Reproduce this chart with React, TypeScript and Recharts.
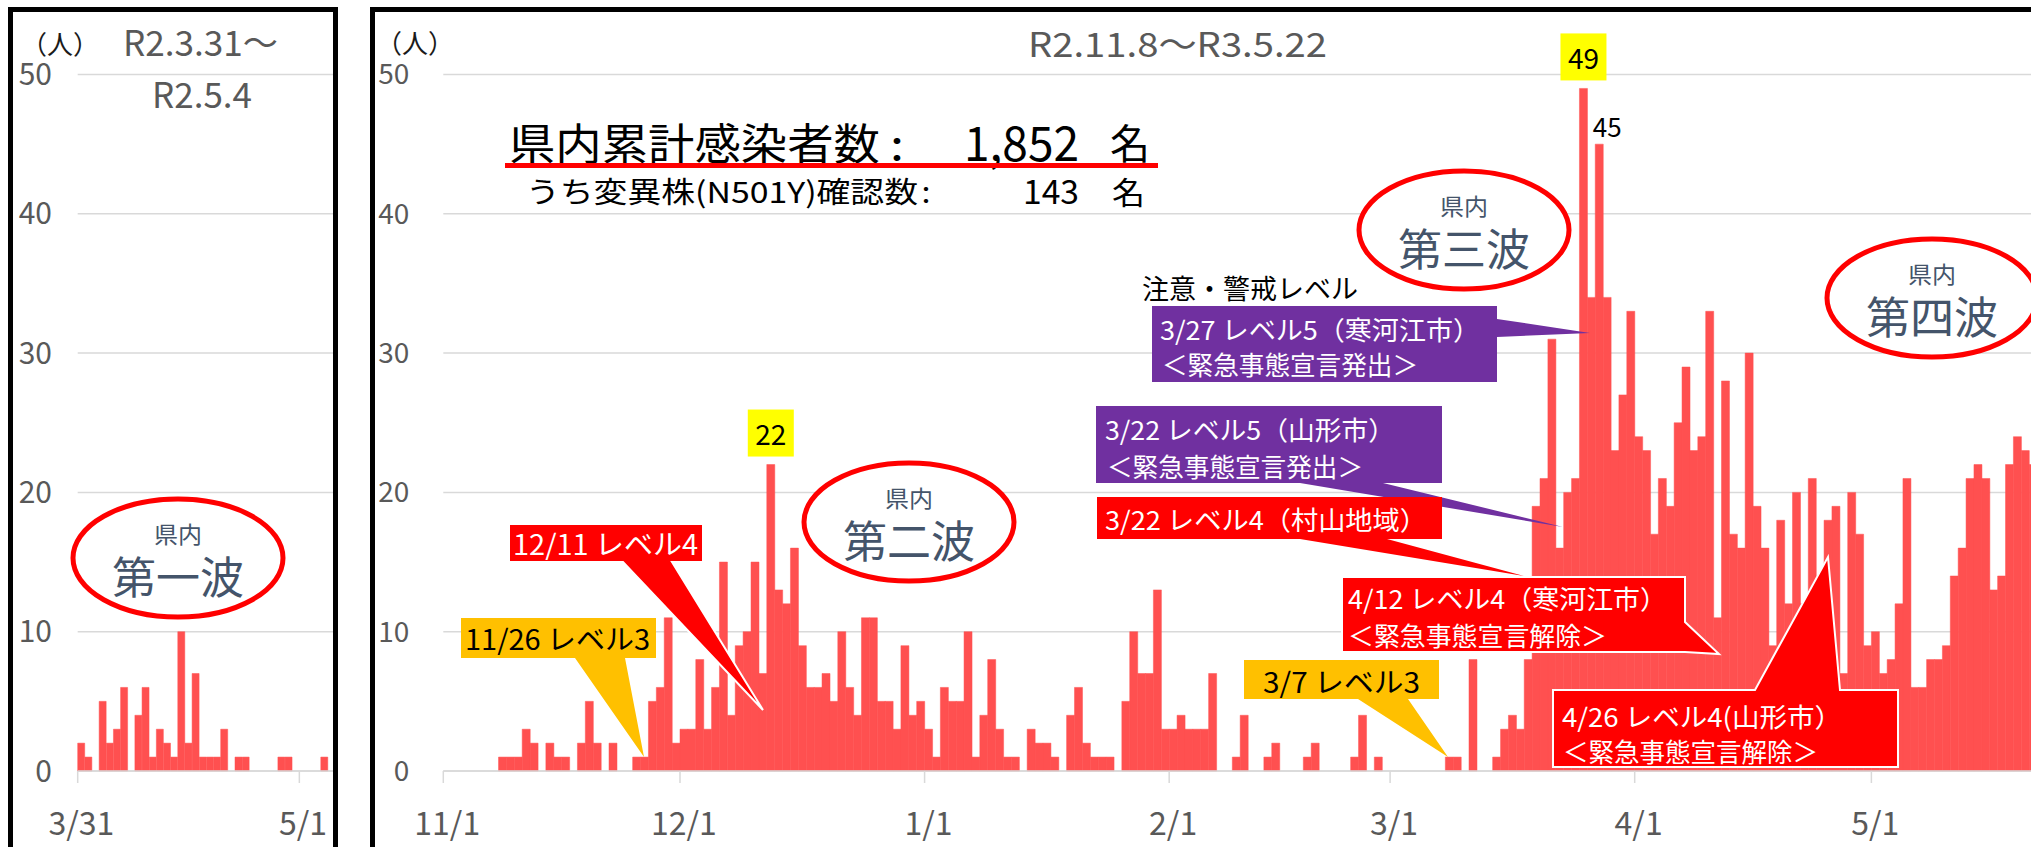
import React from 'react';
import { BarChart, Bar, XAxis, YAxis, CartesianGrid, LabelList } from 'recharts';

const FONT = "'Noto Sans CJK JP', 'Noto Sans', sans-serif";

// ---------- data ----------
// First wave (R2.3.31 - R2.5.4), daily new cases
const leftMar = [2];
const leftApr = [1, 0, 5, 2, 3, 6, 0, 4, 6, 1, 3, 2, 1, 10, 2, 7, 1, 1, 1, 3, 0, 1, 1, 0, 0, 0, 0, 1, 1, 0];
const leftMay = [0, 0, 0, 1, 0];

// Third & fourth waves (R2.11.1 - R3.5.21)
const novCases = [0, 0, 0, 0, 0, 0, 0, 1, 1, 1, 3, 2, 0, 2, 1, 1, 0, 2, 5, 2, 0, 2, 0, 0, 1, 1, 5, 6, 11, 2];
const decCases = [3, 3, 8, 3, 6, 15, 4, 9, 10, 15, 7, 22, 13, 12, 16, 9, 6, 6, 7, 5, 10, 6, 4, 11, 11, 5, 5, 3, 9, 4, 5];
const janCases = [3, 1, 6, 5, 5, 10, 1, 4, 8, 3, 1, 1, 0, 3, 2, 2, 1, 0, 4, 6, 2, 1, 1, 1, 0, 5, 10, 7, 7, 13, 3];
const febCases = [3, 4, 3, 3, 3, 7, 0, 0, 1, 4, 0, 0, 1, 2, 0, 0, 0, 1, 2, 0, 0, 0, 0, 1, 4, 0, 1, 0];
const marCases = [0, 0, 0, 0, 0, 0, 0, 1, 1, 0, 8, 0, 0, 1, 3, 4, 3, 8, 19, 21, 31, 16, 20, 21, 49, 34, 45, 34, 23, 27, 33];
const aprCases = [24, 23, 17, 21, 19, 25, 29, 23, 24, 33, 11, 28, 17, 16, 30, 19, 16, 9, 18, 12, 20, 12, 21, 14, 18, 19, 7, 20, 17, 9];
const mayCases = [10, 7, 8, 12, 21, 6, 6, 8, 8, 9, 14, 16, 21, 22, 21, 13, 14, 22, 24, 23, 22];

const leftTicks = ['3/31', '5/1'];
const rightTicks = ['11/1', '12/1', '1/1', '2/1', '3/1', '4/1', '5/1'];
const yTicks = [0, 10, 20, 30, 40, 50];

const peakNotes = [
  { date: '12/12', text: '22', boxed: true },
  { date: '3/25', text: '49', boxed: true },
  { date: '3/27', text: '45', boxed: false },
];

const DAYS_IN = [31, 28, 31, 30, 31, 30, 31, 31, 30, 31, 30, 31];
function dateLabels(m0: number, d0: number, n: number): string[] {
  const out: string[] = [];
  let m = m0, d = d0;
  for (let i = 0; i < n; i++) {
    out.push(`${m}/${d}`);
    d++;
    if (d > DAYS_IN[m - 1]) { d = 1; m = (m % 12) + 1; }
  }
  return out;
}

const leftCases = [...leftMar, ...leftApr, ...leftMay];
const rightCases = [...novCases, ...decCases, ...janCases, ...febCases, ...marCases, ...aprCases, ...mayCases];
const leftDates = dateLabels(3, 31, leftCases.length);
const rightDates = dateLabels(11, 1, rightCases.length);

const leftData = leftCases.map((v, i) => ({ date: leftDates[i], cases: v }));
const rightData = rightCases.map((v, i) => {
  const n = peakNotes.find((p) => p.date === rightDates[i]);
  return { date: rightDates[i], cases: v, note: n ? n.text : undefined };
});

// ---------- layout ----------
const H = 847;
const TOP = 74.5;
const XAXIS_H = 76;
const BAND_L = 7.15;
const BAND_R = 7.89;
const YW_L = 77.7;
const YW_R = 73.3;
const BAR = '#FF5050';
const GRID = '#D9D9D9';
const TICK = '#595959';

function makeXTick(half: number) {
  return (props: any) => {
    const { x, y, payload } = props;
    return (
      <g>
        <line x1={x - half} x2={x - half} y1={y} y2={y + 12} stroke={GRID} strokeWidth={1.5} />
        <text x={x} y={y + 64} textAnchor="middle" fontSize={32} fill={TICK} fontFamily={FONT}>
          {payload.value}
        </text>
      </g>
    );
  };
}

const NoteLabel = (p: any) => {
  const { x, y, width, value } = p;
  if (value === undefined || value === null || value === '') return null;
  const note = peakNotes.find((n) => n.text === String(value));
  const cx = Number(x) + Number(width) / 2;
  const top = Number(y);
  if (note && note.boxed) {
    return (
      <g>
        <rect x={cx - 23} y={top - 55} width={46} height={47} fill="#FFFF00" />
        <text x={cx} y={top - 31.5} textAnchor="middle" dominantBaseline="central" fontSize={28} fill="#000" fontFamily={FONT}>
          {value}
        </text>
      </g>
    );
  }
  return (
    <text x={cx + 8} y={top - 19} textAnchor="middle" dominantBaseline="central" fontSize={26} fill="#000" fontFamily={FONT}>
      {value}
    </text>
  );
};

const T = (props: any) => {
  const { x, y, s, w, anchor = 'start', fill = '#000', children } = props;
  return (
    <text
      x={x}
      y={y}
      fontSize={s}
      textLength={w}
      lengthAdjust={w ? 'spacingAndGlyphs' : undefined}
      textAnchor={anchor}
      dominantBaseline="central"
      fill={fill}
      fontFamily={FONT}
    >
      {children}
    </text>
  );
};

type Line = { t: string; x: number; y: number; w: number };
type Callout = { shape: number[][]; fill: string; border?: string; color: string; fs: number; lines: Line[] };

const callouts: Callout[] = [
  {
    shape: [[509, 524], [703, 524], [703, 562], [672, 562], [763, 710], [623, 562], [509, 562]],
    fill: '#FF0000', border: '#FFFFFF', color: '#FFFFFF', fs: 28,
    lines: [{ t: '12/11 レベル4', x: 513, y: 543, w: 185 }],
  },
  {
    shape: [[461, 618], [656, 618], [656, 658], [625, 658], [644, 757], [575, 658], [461, 658]],
    fill: '#FFC000', color: '#000000', fs: 28,
    lines: [{ t: '11/26 レベル3', x: 465, y: 638, w: 185 }],
  },
  {
    shape: [[1244, 660], [1439, 660], [1439, 699], [1408, 699], [1448, 757], [1358, 699], [1244, 699]],
    fill: '#FFC000', color: '#000000', fs: 28,
    lines: [{ t: '3/7 レベル3', x: 1263, y: 681, w: 157 }],
  },
  {
    shape: [[1152, 306], [1497, 306], [1497, 319], [1590, 333], [1497, 337], [1497, 382], [1152, 382]],
    fill: '#7030A0', color: '#FFFFFF', fs: 26,
    lines: [
      { t: '3/27 レベル5（寒河江市）', x: 1160, y: 328, w: 320 },
      { t: '＜緊急事態宣言発出＞', x: 1162, y: 363, w: 256 },
    ],
  },
  {
    shape: [[1096, 406], [1442, 406], [1442, 483], [1383, 483], [1563, 527], [1300, 483], [1096, 483]],
    fill: '#7030A0', color: '#FFFFFF', fs: 26,
    lines: [
      { t: '3/22 レベル5（山形市）', x: 1105, y: 428, w: 290 },
      { t: '＜緊急事態宣言発出＞', x: 1107, y: 465, w: 256 },
    ],
  },
  {
    shape: [[1097, 497], [1442, 497], [1442, 539], [1387, 539], [1524, 576], [1300, 539], [1097, 539]],
    fill: '#FF0000', color: '#FFFFFF', fs: 26,
    lines: [{ t: '3/22 レベル4（村山地域）', x: 1105, y: 518, w: 322 }],
  },
  {
    shape: [[1342, 577], [1685, 577], [1685, 622], [1719, 654], [1685, 652], [1342, 652]],
    fill: '#FF0000', border: '#FFFFFF', color: '#FFFFFF', fs: 26,
    lines: [
      { t: '4/12 レベル4（寒河江市）', x: 1348, y: 597, w: 319 },
      { t: '＜緊急事態宣言解除＞', x: 1348, y: 634, w: 259 },
    ],
  },
  {
    shape: [[1553, 690], [1755, 690], [1828, 557], [1840, 690], [1898, 690], [1898, 767], [1553, 767]],
    fill: '#FF0000', border: '#FFFFFF', color: '#FFFFFF', fs: 26,
    lines: [
      { t: '4/26 レベル4(山形市）', x: 1562, y: 715, w: 280 },
      { t: '＜緊急事態宣言解除＞', x: 1563, y: 750, w: 255 },
    ],
  },
];

const waves = [
  { cx: 178, cy: 558, t: '第一波' },
  { cx: 909, cy: 522, t: '第二波' },
  { cx: 1464, cy: 230, t: '第三波' },
  { cx: 1932, cy: 298, t: '第四波' },
];

const yTickStyleL = { fontSize: 30, fill: TICK, fontFamily: FONT };
const yTickStyleR = { fontSize: 28, fill: TICK, fontFamily: FONT };

export default function App() {
  const leftW = YW_L + leftCases.length * BAND_L + 5;
  const rightW = YW_R + rightCases.length * BAND_R + 10;
  return (
    <div
      style={{
        position: 'absolute', left: 0, top: 0, width: 2031, height: 847,
        overflow: 'hidden', background: '#FFFFFF', fontFamily: FONT,
      }}
    >
      <div style={{ position: 'absolute', left: 0, top: 0 }}>
        <BarChart
          width={leftW}
          height={H}
          data={leftData}
          margin={{ top: TOP, right: 5, left: 0, bottom: 0 }}
          barCategoryGap={0}
          barGap={0}
        >
          <CartesianGrid vertical={false} stroke={GRID} strokeWidth={1.5} />
          <XAxis
            dataKey="date"
            ticks={leftTicks}
            interval={0}
            height={XAXIS_H}
            tickLine={false}
            tickSize={0}
            tickMargin={0}
            axisLine={{ stroke: GRID, strokeWidth: 1.5 }}
            tick={makeXTick(BAND_L / 2)}
          />
          <YAxis
            width={YW_L}
            domain={[0, 50]}
            ticks={yTicks}
            axisLine={false}
            tickLine={false}
            tickSize={0}
            tickMargin={25.7}
            tick={yTickStyleL}
          />
          <Bar dataKey="cases" fill={BAR} stroke={BAR} strokeWidth={0.5} isAnimationActive={false} />
        </BarChart>
      </div>

      <div style={{ position: 'absolute', left: 370, top: 0 }}>
        <BarChart
          width={rightW}
          height={H}
          data={rightData}
          margin={{ top: TOP, right: 10, left: 0, bottom: 0 }}
          barCategoryGap={0}
          barGap={0}
        >
          <CartesianGrid vertical={false} stroke={GRID} strokeWidth={1.5} />
          <XAxis
            dataKey="date"
            ticks={rightTicks}
            interval={0}
            height={XAXIS_H}
            tickLine={false}
            tickSize={0}
            tickMargin={0}
            axisLine={{ stroke: GRID, strokeWidth: 1.5 }}
            tick={makeXTick(BAND_R / 2)}
          />
          <YAxis
            width={YW_R}
            domain={[0, 50]}
            ticks={yTicks}
            axisLine={false}
            tickLine={false}
            tickSize={0}
            tickMargin={34}
            tick={yTickStyleR}
          />
          <Bar dataKey="cases" fill={BAR} stroke={BAR} strokeWidth={0.5} isAnimationActive={false}>
            <LabelList dataKey="note" content={NoteLabel} />
          </Bar>
        </BarChart>
      </div>

      {/* panel frames */}
      <div style={{ position: 'absolute', left: 8, top: 7, width: 330, height: 900, border: '5px solid #000', boxSizing: 'border-box' }} />
      <div style={{ position: 'absolute', left: 370, top: 7, width: 1800, height: 900, border: '5px solid #000', boxSizing: 'border-box' }} />

      <svg style={{ position: 'absolute', left: 0, top: 0 }} width={2031} height={847}>
        {/* unit labels and period titles */}
        <T x={60} y={42} s={26} anchor="middle" fill="#1a1a1a">（人）</T>
        <T x={415} y={41} s={26} anchor="middle" fill="#1a1a1a">（人）</T>
        <T x={200.5} y={40} s={35} w={155} anchor="middle" fill={TICK}>R2.3.31〜</T>
        <T x={202} y={92} s={35} w={100} anchor="middle" fill={TICK}>R2.5.4</T>
        <T x={1177.5} y={42} s={34} w={299} anchor="middle" fill={TICK}>R2.11.8〜R3.5.22</T>

        {/* cumulative totals */}
        <T x={509} y={141} s={43} w={371}>県内累計感染者数</T>
        <T x={897} y={141} s={43} w={14} anchor="middle">:</T>
        <T x={1079} y={140} s={48} w={115} anchor="end">1,852</T>
        <T x={1110} y={141} s={41} w={40}>名</T>
        <rect x={505} y={163} width={653} height={5} fill="#FF0000" />
        <T x={526} y={190} s={29} w={392}>うち変異株(N501Y)確認数</T>
        <T x={926} y={190} s={29} w={9} anchor="middle">:</T>
        <T x={1079} y={190} s={33} w={56} anchor="end">143</T>
        <T x={1112} y={190} s={31} w={33}>名</T>

        <T x={1142} y={287} s={27} w={216}>注意・警戒レベル</T>

        {/* callouts */}
        {callouts.map((c, i) => (
          <g key={i}>
            <polygon
              points={c.shape.map((p) => p.join(',')).join(' ')}
              fill={c.fill}
              stroke={c.border || 'none'}
              strokeWidth={c.border ? 2 : 0}
              strokeLinejoin="miter"
            />
            {c.lines.map((l, j) => (
              <T key={j} x={l.x} y={l.y} s={c.fs} w={l.w} fill={c.color}>{l.t}</T>
            ))}
          </g>
        ))}

        {/* wave ellipses */}
        {waves.map((w, i) => (
          <g key={i}>
            <ellipse cx={w.cx} cy={w.cy} rx={105} ry={59} fill="#FFFFFF" stroke="#FF0000" strokeWidth={5} />
            <T x={w.cx} y={w.cy - 25} s={23} w={48} anchor="middle" fill="#44546A">県内</T>
            <T x={w.cx} y={w.cy + 17} s={44} w={132} anchor="middle" fill="#44546A">{w.t}</T>
          </g>
        ))}
      </svg>
    </div>
  );
}
